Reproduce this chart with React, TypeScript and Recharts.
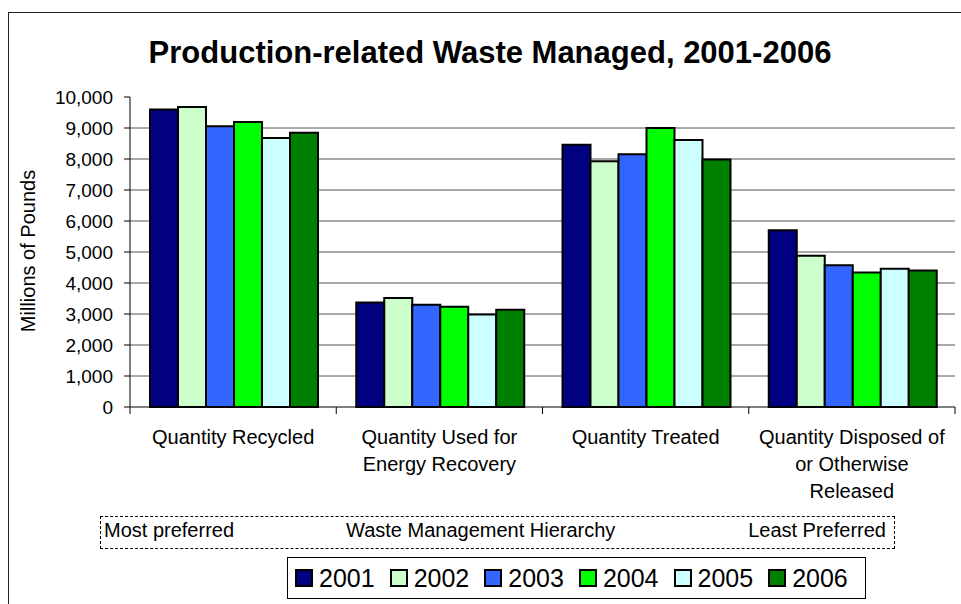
import React from 'react';
import { BarChart, Bar, XAxis, YAxis, CartesianGrid, Label } from 'recharts';

const categories = [
  'Quantity Recycled',
  'Quantity Used for Energy Recovery',
  'Quantity Treated',
  'Quantity Disposed of or Otherwise Released',
];

// category tick labels as they wrap under the axis
const categoryLines = [
  ['Quantity Recycled'],
  ['Quantity Used for', 'Energy Recovery'],
  ['Quantity Treated'],
  ['Quantity Disposed of', 'or Otherwise', 'Released'],
];

const years = ['2001', '2002', '2003', '2004', '2005', '2006'];

const values2001 = [9600, 3370, 8460, 5700];
const values2002 = [9680, 3520, 7930, 4880];
const values2003 = [9060, 3300, 8150, 4570];
const values2004 = [9190, 3230, 9000, 4340];
const values2005 = [8680, 2980, 8610, 4460];
const values2006 = [8850, 3140, 7980, 4400];

const yTicks = [0, 1000, 2000, 3000, 4000, 5000, 6000, 7000, 8000, 9000, 10000];

const seriesValues = [values2001, values2002, values2003, values2004, values2005, values2006];
const colors = ['#000080', '#CCFFCC', '#3366FF', '#00FF00', '#CCFFFF', '#008000'];

const data = categories.map((name, i) => {
  const row: Record<string, string | number> = { name };
  years.forEach((y, j) => {
    row[y] = seriesValues[j][i];
  });
  return row;
});

const FONT = '"Liberation Sans", Arial, sans-serif';
const W = 961;
const H = 604;
const PLOT_LEFT = 130;
const PLOT_RIGHT = 955;
const PLOT_TOP = 97;
const PLOT_BOTTOM = 407;
const BAND = (PLOT_RIGHT - PLOT_LEFT) / categories.length;

// grid lines only between 0 and the top tick
const yMax = yTicks[yTicks.length - 1];
const gridPoints = yTicks
  .slice(1, -1)
  .map((v) => PLOT_TOP + (PLOT_BOTTOM - PLOT_TOP) * (1 - v / yMax));

const CategoryTick = (props: any) => {
  const { x, y, index } = props;
  const half = BAND / 2;
  const lines = categoryLines[index] || [];
  return (
    <g>
      <line x1={x - half} y1={y} x2={x - half} y2={y + 7} stroke="#000" />
      {index === categories.length - 1 && (
        <line x1={x + half} y1={y} x2={x + half} y2={y + 7} stroke="#000" />
      )}
      <text x={x} y={y + 37} textAnchor="middle" fontSize={20} fontFamily={FONT} fill="#000">
        {lines.map((l: string, k: number) => (
          <tspan key={k} x={x} dy={k === 0 ? 0 : 27}>
            {l}
          </tspan>
        ))}
      </text>
    </g>
  );
};

const YLabel = (props: any) => {
  const { viewBox } = props;
  const cx = 28;
  const cy = viewBox.y + viewBox.height / 2 - 1;
  return (
    <text
      x={cx}
      y={cy}
      transform={`rotate(-90 ${cx} ${cy})`}
      textAnchor="middle"
      dominantBaseline="central"
      fontSize={20}
      fontFamily={FONT}
      fill="#000"
    >
      Millions of Pounds
    </text>
  );
};

const App = () => {
  return (
    <div
      style={{
        position: 'fixed',
        left: 0,
        top: 0,
        width: W,
        height: H,
        overflow: 'hidden',
        background: '#fff',
        fontFamily: FONT,
        color: '#000',
      }}
    >
      <div
        style={{
          position: 'absolute',
          left: 8,
          top: 12,
          width: W,
          height: H,
          borderTop: '1px solid #222',
          borderLeft: '1px solid #222',
        }}
      />
      <div
        style={{
          position: 'absolute',
          left: 0,
          top: 37,
          width: 980,
          textAlign: 'center',
          fontSize: 31,
          lineHeight: '31px',
          fontWeight: 'bold',
        }}
      >
        Production-related Waste Managed, 2001-2006
      </div>

      <div style={{ position: 'absolute', left: 0, top: 0 }}>
        <BarChart
          width={W}
          height={H}
          data={data}
          margin={{ top: PLOT_TOP, right: W - PLOT_RIGHT, bottom: H - PLOT_BOTTOM - 100, left: PLOT_LEFT - 80 }}
          barGap={0}
          barCategoryGap={20}
        >
          <CartesianGrid vertical={false} stroke="#555" horizontalPoints={gridPoints} />
          <XAxis
            dataKey="name"
            height={100}
            interval={0}
            tickLine={false}
            tickSize={0}
            tickMargin={0}
            axisLine={{ stroke: '#000' }}
            tick={<CategoryTick />}
          />
          <YAxis
            width={80}
            domain={[0, yMax]}
            ticks={yTicks}
            interval={0}
            tickSize={6}
            tickMargin={11}
            axisLine={{ stroke: '#000' }}
            tickLine={{ stroke: '#000' }}
            tick={{ fill: '#000', fontSize: 19, fontFamily: FONT }}
            tickFormatter={(v: number) => v.toLocaleString('en-US')}
          >
            <Label content={<YLabel />} />
          </YAxis>
          {years.map((y, j) => (
            <Bar
              key={y}
              dataKey={y}
              fill={colors[j]}
              stroke="#000"
              strokeWidth={2}
              isAnimationActive={false}
            />
          ))}
        </BarChart>
      </div>

      <div
        style={{
          position: 'absolute',
          left: 100,
          top: 516,
          width: 795,
          height: 33,
          boxSizing: 'border-box',
          border: '1px dashed #000',
          fontSize: 20,
          lineHeight: '20px',
        }}
      >
        <span style={{ position: 'absolute', left: 3, top: 3 }}>Most preferred</span>
        <span style={{ position: 'absolute', left: 245, top: 3 }}>Waste Management Hierarchy</span>
        <span style={{ position: 'absolute', right: 8, top: 3 }}>Least Preferred</span>
      </div>

      <div
        style={{
          position: 'absolute',
          left: 287,
          top: 557,
          width: 579,
          height: 42,
          boxSizing: 'border-box',
          border: '1px solid #000',
          display: 'flex',
          alignItems: 'center',
          paddingLeft: 7,
          fontSize: 25,
          lineHeight: '25px',
        }}
      >
        {years.map((y, j) => (
          <div key={y} style={{ display: 'flex', alignItems: 'center', marginRight: 15 }}>
            <span
              style={{
                display: 'inline-block',
                width: 18,
                height: 18,
                boxSizing: 'border-box',
                border: '2px solid #000',
                background: colors[j],
                marginRight: 6,
              }}
            />
            <span>{y}</span>
          </div>
        ))}
      </div>
    </div>
  );
};

export default App;
